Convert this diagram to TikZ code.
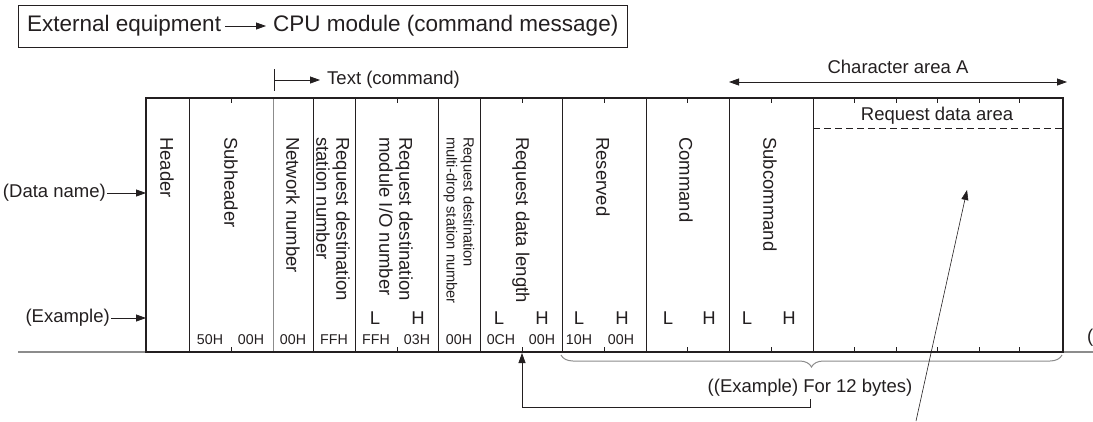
\documentclass[tikz,border=0pt]{standalone}
\usepackage{fontspec}
\setmainfont{Liberation Sans}
\usepackage{tikz}
\usetikzlibrary{arrows.meta}
\usetikzlibrary{calc,positioning,decorations.pathreplacing}
\definecolor{ink}{HTML}{231F20}
\definecolor{rule}{HTML}{8C8C8C}

\begin{document}
\begin{tikzpicture}[x=1pt, y=-1pt,
	lbl/.style = {inner sep=0pt, text=ink, font=\fontsize{18.5}{20}\selectfont},
	ttl/.style = {lbl, anchor=west, font=\fontsize{22.5}{26}\selectfont, text height=16pt, text depth=5pt},
	vlbl/.style = {lbl, rotate=-90, anchor=west, align=left},
	small/.style = {font=\fontsize{14.7}{17}\selectfont},
	hexv/.style = {lbl, font=\fontsize{14.2}{16}\selectfont},
	tip/.style = {draw=ink, line width=.8pt, -{Triangle[length=10pt,width=7pt]}},
	frame/.style = {draw=ink, line width=2.4pt},
	fine/.style = {draw=ink, line width=.9pt}, ]
	\useasboundingbox (0,0) rectangle (1093,421);

	\draw[fine] (18,5) rectangle (627,47);
	\node [ttl] (ext) at (27,26) {External equipment};
	\node [ttl] (cpu) at (273,26) {CPU module (command message)};
	\draw [tip, shorten <=4pt, shorten >=7pt] (ext.east) -- (cpu.west);

	\coordinate (txtbar) at (274,80);
	\node [lbl, anchor=west] (txt) at (327,80) {Text (command)};
	\draw [fine] (274,69) -- (274,91);
	\draw [tip, shorten >=7pt] (txtbar) -- (txt.west);

	\coordinate (chrL) at (729,82);
	\coordinate (chrR) at (1067,82);
	\node [lbl] (chr) at (898,67) {Character area A};
	\draw [tip, {Triangle[length=10pt,width=7pt]}-{Triangle[length=10pt,width=7pt]}] (chrL) -- (chrR);

	\draw [rule, line width=1.2pt] (18,352) -- (146,352) (1063,352) -- (1093,352);
	\draw [frame] (146,98) rectangle (1063,352);
	\foreach \x in {189,313,355,438,480,562,646,729,813}
		\draw [fine] (\x,98) -- (\x,352);
	\draw [rule, line width=1pt] (273,99) -- (273,351);
	\foreach \x in {231,397,522,604,687,771,854,896,937,979,1019}
		\draw [fine] (\x,98) -- (\x,103) (\x,352) -- (\x,347);

	\node [vlbl] (hdr) at (167,137) {Header};
	\node [vlbl] (sub) at (231,137) {Subheader};
	\node [vlbl] (net) at (293,137) {Network number};
	\node [vlbl] (stn) at (333,137) {Request destination\\station number};
	\node [vlbl] (mio) at (396,137) {Request destination\\module I/O number};
	\node [vlbl, small] (mdr) at (459,137) {Request destination\\multi-drop station number};
	\node [vlbl] (len) at (521,137) {Request data length};
	\node [vlbl] (rsv) at (603,137) {Reserved};
	\node [vlbl] (cmd) at (686,137) {Command};
	\node [vlbl] (scm) at (770,137) {Subcommand};

	\node [lbl] (rda) at (937,116) {Request data area};
	\draw [ink, line width=.8pt, dash pattern=on 7pt off 4pt] (813,128) -- (1063,128);

	\foreach \x/\t in {375/L,418/H,499/L,542/H,579/L,622/H,668/L,709/H,747/L,789/H}
		\node [lbl] (lh\x) at (\x,318) {\t};
	\foreach \x/\t in {210/50H,251/00H,293/00H,334/FFH,376/FFH,417/03H,459/00H,501/0CH,542/00H,579/10H,621/00H}
		\node [hexv] (hx\x) at (\x,340) {\t};

	\node [lbl, anchor=east] (dname) at (106,193) {(Data name)};
	\node [lbl, anchor=east] (exmp) at (110,318) {(Example)};
	\coordinate (dnin) at (146,193);
	\coordinate (exin) at (146,318);
	\draw [tip, shorten <=1pt] (dname.east) -- (dnin);
	\draw [tip, shorten <=1pt] (exmp.east) -- (exin);

	\draw [rule, line width=1pt, decorate, decoration={brace, mirror, amplitude=12pt}] (561,355) -- (1062,355);
	\node [lbl] (ex12) at (810,388) {((Example) For 12 bytes)};
	\coordinate (bend) at (0,407);
	\coordinate (lenbot) at (522,353);
	\draw [tip, shorten <=2pt] (ex12.south) -- (ex12.south |- bend) -| (lenbot);

	\coordinate (rdtail) at (916,421);
	\coordinate (rdhead) at (967,190);
	\draw [tip, line width=.6pt] (rdtail) -- (rdhead);

	\node [lbl, anchor=west] (cut) at (1087,338) {(};
\end{tikzpicture}
\end{document}
